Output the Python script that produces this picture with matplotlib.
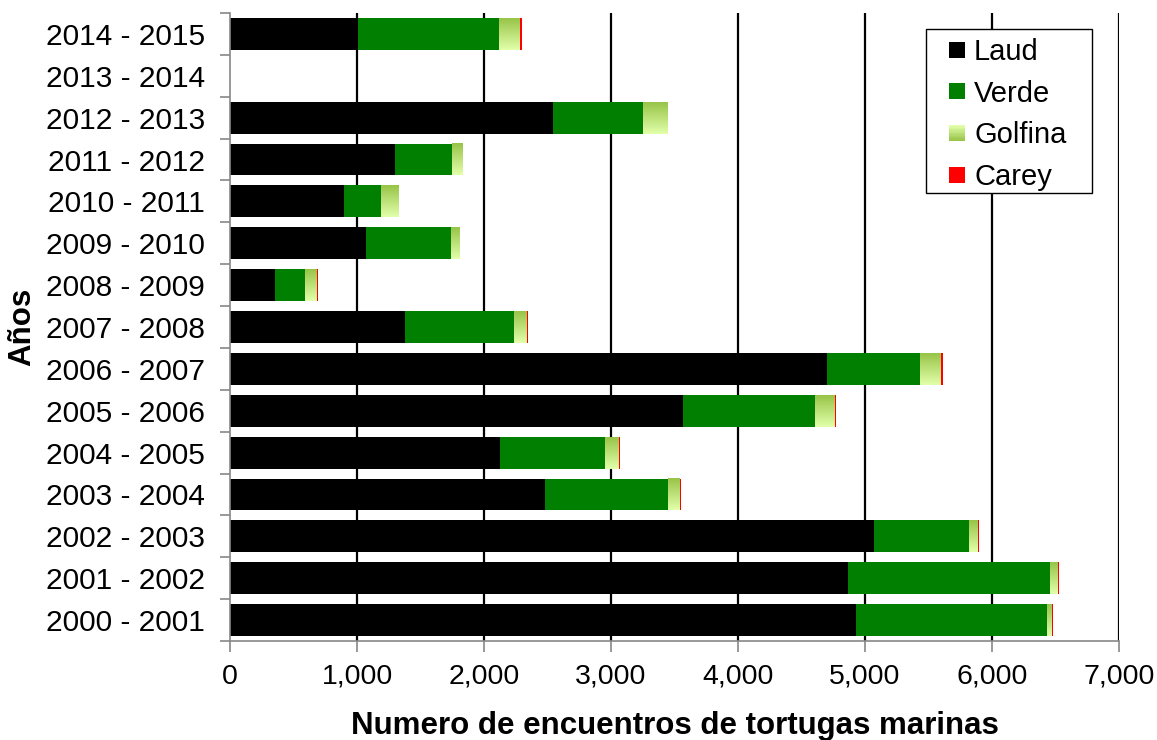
import matplotlib
matplotlib.use("Agg")
import matplotlib.pyplot as plt
from matplotlib.patches import Rectangle
from matplotlib.legend_handler import HandlerBase
from matplotlib.ticker import FuncFormatter
import numpy as np

plt.rcParams['font.family'] = ['Liberation Sans', 'DejaVu Sans']

# Nesting seasons, bottom to top
seasons = ["2000 - 2001", "2001 - 2002", "2002 - 2003", "2003 - 2004", "2004 - 2005",
           "2005 - 2006", "2006 - 2007", "2007 - 2008", "2008 - 2009", "2009 - 2010",
           "2010 - 2011", "2011 - 2012", "2012 - 2013", "2013 - 2014", "2014 - 2015"]
laud    = [4932, 4869, 5071, 2480, 2126, 3567, 4701, 1378, 354, 1071, 898, 1299, 2543, 0, 1008]
verde   = [1501, 1590, 748, 969, 827, 1039, 732, 858, 237, 669, 291, 449, 709, 0, 1110]
golfina = [36, 61, 67, 94, 110, 150, 165, 95, 94, 63, 134, 79, 189, 0, 165]
carey   = [11, 10, 12, 8, 8, 16, 16, 15, 8, 8, 8, 8, 8, 0, 17]
x_ticks = [0, 1000, 2000, 3000, 4000, 5000, 6000, 7000]

c_laud = "#000000"
c_verde = "#007f00"
c_carey = "#ff0000"
g_top = np.array([226, 255, 170]) / 255
g_bot = np.array([152, 196, 72]) / 255

W, H = 1157, 740
fig = plt.figure(figsize=(W / 100, H / 100), dpi=100)
ax = fig.add_axes([230 / W, 1 - 641 / H, 889 / W, 628 / H])

y = np.arange(len(seasons))
h = 0.76
laud_a = np.array(laud, float)
verde_a = np.array(verde, float)
golf_a = np.array(golfina, float)
carey_a = np.array(carey, float)

for v in x_ticks[1:]:
    ax.axvline(v, color="black", lw=1.6, zorder=0)

ax.barh(y, laud_a, height=h, color=c_laud, zorder=2)
ax.barh(y, verde_a, left=laud_a, height=h, color=c_verde, zorder=2)
golf_bars = ax.barh(y, golf_a, left=laud_a + verde_a, height=h, color="none", zorder=2)
ax.barh(y, carey_a, left=laud_a + verde_a + golf_a, height=h, color=c_carey, zorder=2)

# vertical gradient fill for the Golfina segments
grad = np.linspace(0, 1, 64)[:, None, None]
grad_img = g_top[None, None, :] * (1 - grad) + g_bot[None, None, :] * grad
for bar in golf_bars:
    if bar.get_width() <= 0:
        continue
    x0, y0 = bar.get_x(), bar.get_y()
    ax.imshow(grad_img, extent=(x0, x0 + bar.get_width(), y0 + bar.get_height(), y0),
              aspect="auto", zorder=2, interpolation="bilinear")

ax.set_xlim(0, 7000)
ax.set_ylim(-0.5, len(seasons) - 0.5)
ax.set_aspect("auto")

ax.set_xticks(x_ticks)
ax.xaxis.set_major_formatter(FuncFormatter(lambda v, p: f"{int(v):,}"))
ax.set_yticks(y)
ax.set_yticklabels(seasons)
ax.set_yticks(np.arange(-0.5, len(seasons)), minor=True)

ax.tick_params(axis="y", which="major", length=0, labelsize=21.5, pad=18)
ax.tick_params(axis="y", which="minor", length=7, color="#888888", width=1.2)
ax.tick_params(axis="x", length=8, color="#888888", width=1.2, labelsize=20.5, pad=8.5)

for s in ["top", "right"]:
    ax.spines[s].set_visible(False)
for s in ["left", "bottom"]:
    ax.spines[s].set_color("#888888")
    ax.spines[s].set_linewidth(1.2)

ax.set_xlabel("Numero de encuentros de tortugas marinas", fontsize=22.5,
              fontweight="bold", labelpad=15)
ax.set_ylabel("Años", fontsize=22.5, fontweight="bold", labelpad=6)


class SquareHandler(HandlerBase):
    """Small square key; the Golfina key gets the same vertical gradient."""

    def __init__(self, color=None, gradient=False, size=11.5):
        super().__init__()
        self.color = color
        self.gradient = gradient
        self.size = size

    def create_artists(self, legend, orig_handle, xdescent, ydescent, width, height,
                       fontsize, trans):
        s = self.size
        x0 = -xdescent + width - s
        yc = -ydescent + height / 2
        if not self.gradient:
            return [Rectangle((x0, yc - s / 2), s, s, facecolor=self.color,
                              edgecolor="none", transform=trans)]
        n = 12
        out = []
        for i in range(n):
            t = i / (n - 1)
            col = g_top * (1 - t) + g_bot * t
            out.append(Rectangle((x0, yc + s / 2 - s * (i + 1) / n), s, s / n,
                                 facecolor=col, edgecolor="none", transform=trans))
        return out


handles = [Rectangle((0, 0), 1, 1, color=c) for c in (c_laud, c_verde, "#c0e080", c_carey)]
hmap = {handles[0]: SquareHandler(c_laud), handles[1]: SquareHandler(c_verde),
        handles[2]: SquareHandler(gradient=True), handles[3]: SquareHandler(c_carey)}

# legend frame drawn separately so the box can be wider than the entries
frame = Rectangle((926 / W, 1 - 193 / H), (1092 - 926) / W, (193 - 29) / H,
                  transform=fig.transFigure, facecolor="white", edgecolor="black",
                  lw=1.0, zorder=4)
fig.add_artist(frame)

leg = fig.legend(handles, ["Laud", "Verde", "Golfina", "Carey"], handler_map=hmap,
                 loc="upper left", bbox_to_anchor=(939 / W, 1 - 38 / H),
                 fontsize=21, handlelength=0.9, handleheight=0.6, handletextpad=0.3,
                 labelspacing=0.47, borderpad=0, borderaxespad=0, frameon=False)
leg.set_zorder(5)

fig.savefig("out.png", dpi=100)
